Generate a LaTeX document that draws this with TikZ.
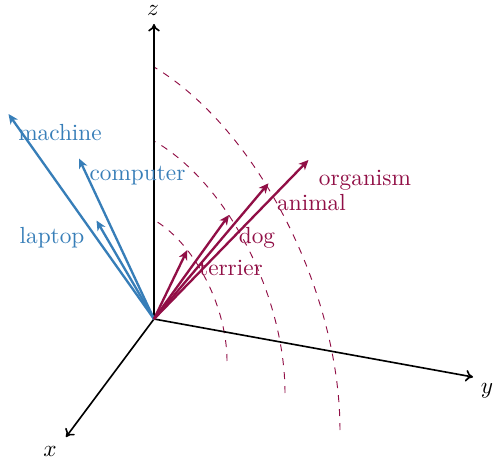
\documentclass[tikz,border=0pt]{standalone}
\usetikzlibrary{arrows.meta}
\definecolor{vblue}{RGB}{55,126,184}
\definecolor{vred}{RGB}{145,15,70}
\begin{document}
\begin{tikzpicture}[x=0.4292pt,y=-0.4292pt,
  axis/.style={line width=0.7pt,-{To[length=3.2pt,width=5pt]}},
  bvec/.style={vblue,line width=1pt,-{Stealth[length=4.2pt,width=3.8pt,inset=1.2pt]}},
  rvec/.style={vred,line width=1pt,-{Stealth[length=4.2pt,width=3.8pt,inset=1.2pt]}},
  arcline/.style={vred,line width=0.4pt,dashed},
  blab/.style={text=vblue,anchor=base,inner sep=0pt},
  rlab/.style={text=vred,anchor=base,inner sep=0pt},
  alab/.style={inner sep=0pt}]
\useasboundingbox (0,0) rectangle (494,464);
\coordinate (O) at (154,319);
\coordinate (zt) at (154,24);
\coordinate (yt) at (473,377);
\coordinate (xt) at (66,437);
% dashed arcs
\draw[arcline] plot[domain=0:90,samples=60] ({154+73*cos(\x)},{319+42*cos(\x)-99*sin(\x)});
\draw[arcline] plot[domain=0:90,samples=60] ({154+131*cos(\x)},{319+74*cos(\x)-178*sin(\x)});
\draw[arcline] plot[domain=0:90,samples=60] ({154+186*cos(\x)},{319+111*cos(\x)-252*sin(\x)});
% axes
\draw[axis] (O) -- (zt);
\draw[axis] (O) -- (yt);
\draw[axis] (O) -- (xt);
\node[alab] (zl) at (153,10.5) {$z$};
\node[alab] (yl) at (487,391) {$y$};
\node[alab] (xl) at (50,451) {$x$};
% blue vectors
\coordinate (mach) at (8.5,114);
\coordinate (comp) at (79,158.5);
\coordinate (lapt) at (96.5,220.5);
\draw[bvec] (O) -- (mach);
\draw[bvec] (O) -- (comp);
\draw[bvec] (O) -- (lapt);
\node[blab] (machl) at (60,140.3) {machine};
\node[blab] (compl) at (137.5,181) {computer};
\node[blab] (laptl) at (52,244) {laptop};
% red labels
\node[rlab] (orgl) at (365,185.5) {organism};
\node[rlab] (anil) at (311.5,210.5) {animal};
\node[rlab] (dogl) at (257,243.5) {dog};
\node[rlab] (terl) at (231,275.5) {terrier};
% red vectors
\coordinate (org) at (308.5,160);
\coordinate (ani) at (268.5,183.3);
\coordinate (dog) at (229,215);
\coordinate (ter) at (187.3,250);
\draw[rvec] (O) -- (org);
\draw[rvec] (O) -- (ani);
\draw[rvec] (O) -- (dog);
\draw[rvec] (O) -- (ter);
\end{tikzpicture}
\end{document}
